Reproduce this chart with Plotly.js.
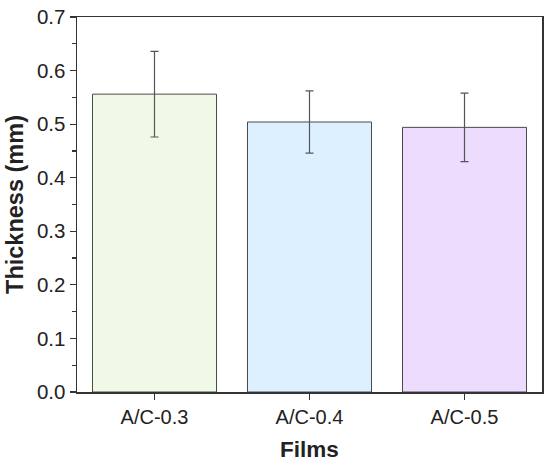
<!DOCTYPE html>
<html>
<head>
<meta charset="utf-8">
<script src="https://cdn.plot.ly/plotly-3.0.1.min.js"></script>
<style>html,body{margin:0;padding:0;background:#fff;}#chart{width:550px;height:469px;}</style>
</head>
<body>
<div id="chart"></div>
<script>
const categories = ["A/C-0.3", "A/C-0.4", "A/C-0.5"];
const thickness = [0.556, 0.504, 0.494];
const errPlus = [0.080, 0.058, 0.064];
const errMinus = [0.080, 0.058, 0.064];
const barColors = ["#f0f9e6", "#ddf0ff", "#eddcfd"];

const trace = {
  type: "bar",
  x: categories,
  y: thickness,
  width: 0.8,
  marker: {color: barColors, line: {color: "#4a4a4a", width: 1}},
  error_y: {type: "data", symmetric: false, array: errPlus, arrayminus: errMinus,
            color: "#555555", thickness: 1.2, width: 4},
  hoverinfo: "none"
};

const fam = "Liberation Sans, Arial, sans-serif";
const layout = {
  width: 550, height: 469,
  margin: {l: 77, r: 8, t: 17, b: 77},
  paper_bgcolor: "#fff", plot_bgcolor: "#fff",
  showlegend: false,
  xaxis: {
    type: "category", range: [-0.5, 2.5],
    showline: true, linecolor: "#333", linewidth: 1.5, mirror: true,
    ticks: "outside", ticklen: 6, tickcolor: "#333", tickwidth: 1.2,
    minor: {ticks: "outside", ticklen: 3, tickcolor: "#333", tickwidth: 1.2, dtick: 1, tick0: 0.5},
    showgrid: false, zeroline: false,
    tickfont: {family: fam, size: 20, color: "#222"},
    title: {text: "<b>Films</b>", font: {family: fam, size: 22.5, color: "#222"}, standoff: 14}
  },
  yaxis: {
    range: [0, 0.7], dtick: 0.1, tickformat: ".1f",
    showline: true, linecolor: "#333", linewidth: 1.5, mirror: true,
    ticks: "outside", ticklen: 6, tickcolor: "#333", tickwidth: 1.2,
    minor: {ticks: "outside", ticklen: 4, tickcolor: "#333", tickwidth: 1.2, dtick: 0.05},
    showgrid: false, zeroline: false,
    tickfont: {family: fam, size: 20.5, color: "#222"},
    title: {text: "<b>Thickness (mm)</b>", font: {family: fam, size: 23.5, color: "#222"}, standoff: 6}
  }
};

Plotly.newPlot("chart", [trace], layout, {staticPlot: true, displayModeBar: false});
</script>
</body>
</html>
